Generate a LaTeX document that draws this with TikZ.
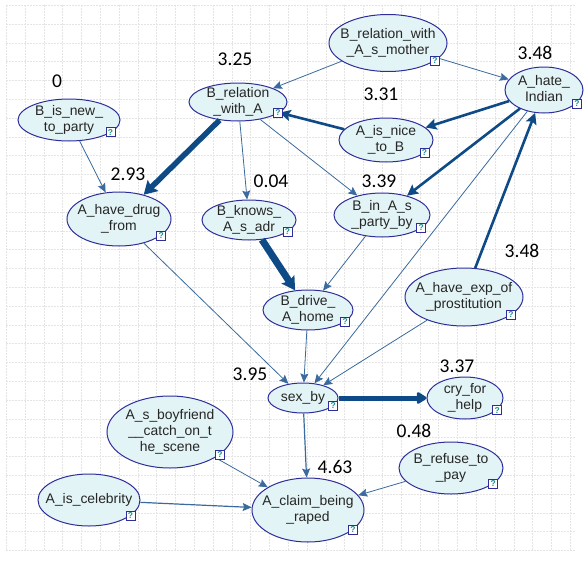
\documentclass[tikz,border=0pt]{standalone}
\usepackage{fontspec}
\usepackage{tikz}
\usetikzlibrary{shapes.geometric,arrows.meta}
\newfontfamily\netfont{Liberation Sans}
\newfontfamily\valfont{Carlito}
\definecolor{nodefill}{HTML}{E3F4F6}
\definecolor{nodeline}{HTML}{2E2E9A}
\definecolor{linkcol}{HTML}{0E4A86}
\definecolor{weakcol}{HTML}{3A6A9E}
\definecolor{gridcol}{HTML}{E4E4E4}
\definecolor{qcol}{HTML}{1E8C8C}
\newcommand{\gs}{18.8}
\newcommand{\bt}[1]{\makebox[0pt]{\raisebox{-3.5pt}[0pt][0pt]{\begin{tabular}{@{}c@{}}#1\end{tabular}}}}
\tikzstyle{bn}=[ellipse, draw=nodeline, fill=nodefill, line width=1pt, inner sep=0pt, text=black!85, font=\netfont\fontsize{13.9}{16}\selectfont]
\tikzstyle{val}=[inner sep=0pt, font=\valfont\fontsize{19.5}{20}\selectfont]
\tikzstyle{qbox}=[draw=nodeline, fill=white, line width=0.8pt, minimum size=9pt, inner sep=0pt, text=qcol, font=\netfont\bfseries\fontsize{8.5}{8.5}\selectfont]
\tikzstyle{weak}=[draw=weakcol, line width=0.8pt, -{Stealth[length=9pt,width=8pt,inset=1.5pt]}]
\tikzstyle{firm}=[draw=linkcol, line width=2.6pt, -{Stealth[length=11pt,width=11pt,inset=2pt]}]
\tikzstyle{strong}=[draw=linkcol, line width=5.5pt, -{Stealth[length=13pt,width=15pt,inset=2pt]}]
\tikzstyle{blob}=[draw=linkcol, line width=5pt, -{Triangle[round,length=11pt,width=13pt]}]
\begin{document}
\begin{tikzpicture}[x=1pt,y=-1pt]

\fill[white] (0,0) rectangle (584,560);
\useasboundingbox (0,0) rectangle (584,560);

% grid
\foreach \i in {0,...,30}
\draw[gridcol, line width=0.6pt, dash pattern=on 2pt off 1pt] (6.2+\i*\gs,5) -- (6.2+\i*\gs,550.5);
\foreach \j in {0,...,29}
\draw[gridcol, line width=0.6pt, dash pattern=on 2pt off 1pt] (6,5.3+\j*\gs) -- (576,5.3+\j*\gs);

% nodes
\node[bn, minimum width=118, minimum height=57] (brelm) at (388,43) {\bt{B\_relation\_with\\\_A\_s\_mother}};
\node[bn, minimum width=78, minimum height=46] (ahate) at (544,90) {\bt{A\_hate\_\\Indian}};
\node[bn, minimum width=98, minimum height=38] (brel) at (238,102) {\bt{B\_relation\\\_with\_A}};
\node[bn, minimum width=102, minimum height=42] (bnew) at (69,120) {\bt{B\_is\_new\_\\to\_party}};
\node[bn, minimum width=94, minimum height=44] (nice) at (386,140) {\bt{A\_is\_nice\\\_to\_B}};
\node[bn, minimum width=104, minimum height=54] (drug) at (119,219) {\bt{A\_have\_drug\\\_from}};
\node[bn, minimum width=94, minimum height=40] (knows) at (249,220) {\bt{B\_knows\_\\A\_s\_adr}};
\node[bn, minimum width=96, minimum height=44] (party) at (382,215) {\bt{B\_in\_A\_s\\\_party\_by}};
\node[bn, minimum width=90, minimum height=40] (drive) at (308,310) {\bt{B\_drive\_\\A\_home}};
\node[bn, minimum width=118, minimum height=58] (prost) at (464,297) {\bt{A\_have\_exp\_of\\\_prostitution}};
\node[bn, minimum width=70, minimum height=30] (sex) at (303,398) {\bt{sex\_by}};
\node[bn, minimum width=76, minimum height=42] (cry) at (465,398) {\bt{cry\_for\\\_help}};
\node[bn, minimum width=126, minimum height=72] (boyf) at (170,432) {\bt{A\_s\_boyfriend\\\_\_catch\_on\_t\\he\_scene}};
\node[bn, minimum width=102, minimum height=52] (celeb) at (89,500) {\bt{A\_is\_celebrity}};
\node[bn, minimum width=112, minimum height=64] (claim) at (308,510) {\bt{A\_claim\_being\\\_raped}};
\node[bn, minimum width=104, minimum height=52] (refuse) at (451,468) {\bt{B\_refuse\_to\\\_pay}};

% values
\node[val] (vbnew) at (57,81) {0};
\node[val] (vbrel) at (235,59) {3.25};
\node[val] (vdrug) at (128,174) {2.93};
\node[val] (vknows) at (271,181) {0.04};
\node[val] (vahate) at (535,53) {3.48};
\node[val] (vnice) at (381,94) {3.31};
\node[val] (vparty) at (379,181) {3.39};
\node[val] (vprost) at (522,251) {3.48};
\node[val] (vsex) at (250,374) {3.95};
\node[val] (vcry) at (457,366) {3.37};
\node[val] (vrefuse) at (414,431) {0.48};
\node[val] (vclaim) at (335,467) {4.63};

% links
\draw[weak] (brelm) -- (brel);
\draw[weak] (brelm) -- (ahate);
\draw[firm] (ahate) -- (nice);
\draw[firm] (nice) -- (brel);
\draw[firm] (ahate) -- (party);
\draw[weak] (ahate) -- (sex);
\draw[firm] (prost) -- (ahate);
\draw[weak] (prost) -- (sex);
\draw[strong] (brel) -- (drug);
\draw[weak] (brel) -- (knows);
\draw[weak] (brel) -- (party);
\draw[weak] (bnew) -- (drug);
\draw[weak] (drug) -- (sex);
\draw[strong, line width=7pt] (knows) -- (drive);
\draw[weak] (party) -- (drive);
\draw[weak] (drive) -- (sex);
\draw[blob] (sex) -- (cry);
\draw[weak, line width=1.2pt] (sex) -- (claim);
\draw[weak] (boyf) -- (claim);
\draw[weak, line width=1.2pt] (celeb) -- (claim);
\draw[weak] (refuse) -- (claim);

% help boxes
\foreach \n in {brelm,ahate,brel,bnew,nice,drug,knows,party,drive,prost,sex,cry,boyf,celeb,claim,refuse}
\node[qbox] (q\n) at ([shift={(5,-3)}]\n.south east) {?};

\end{tikzpicture}
\end{document}
